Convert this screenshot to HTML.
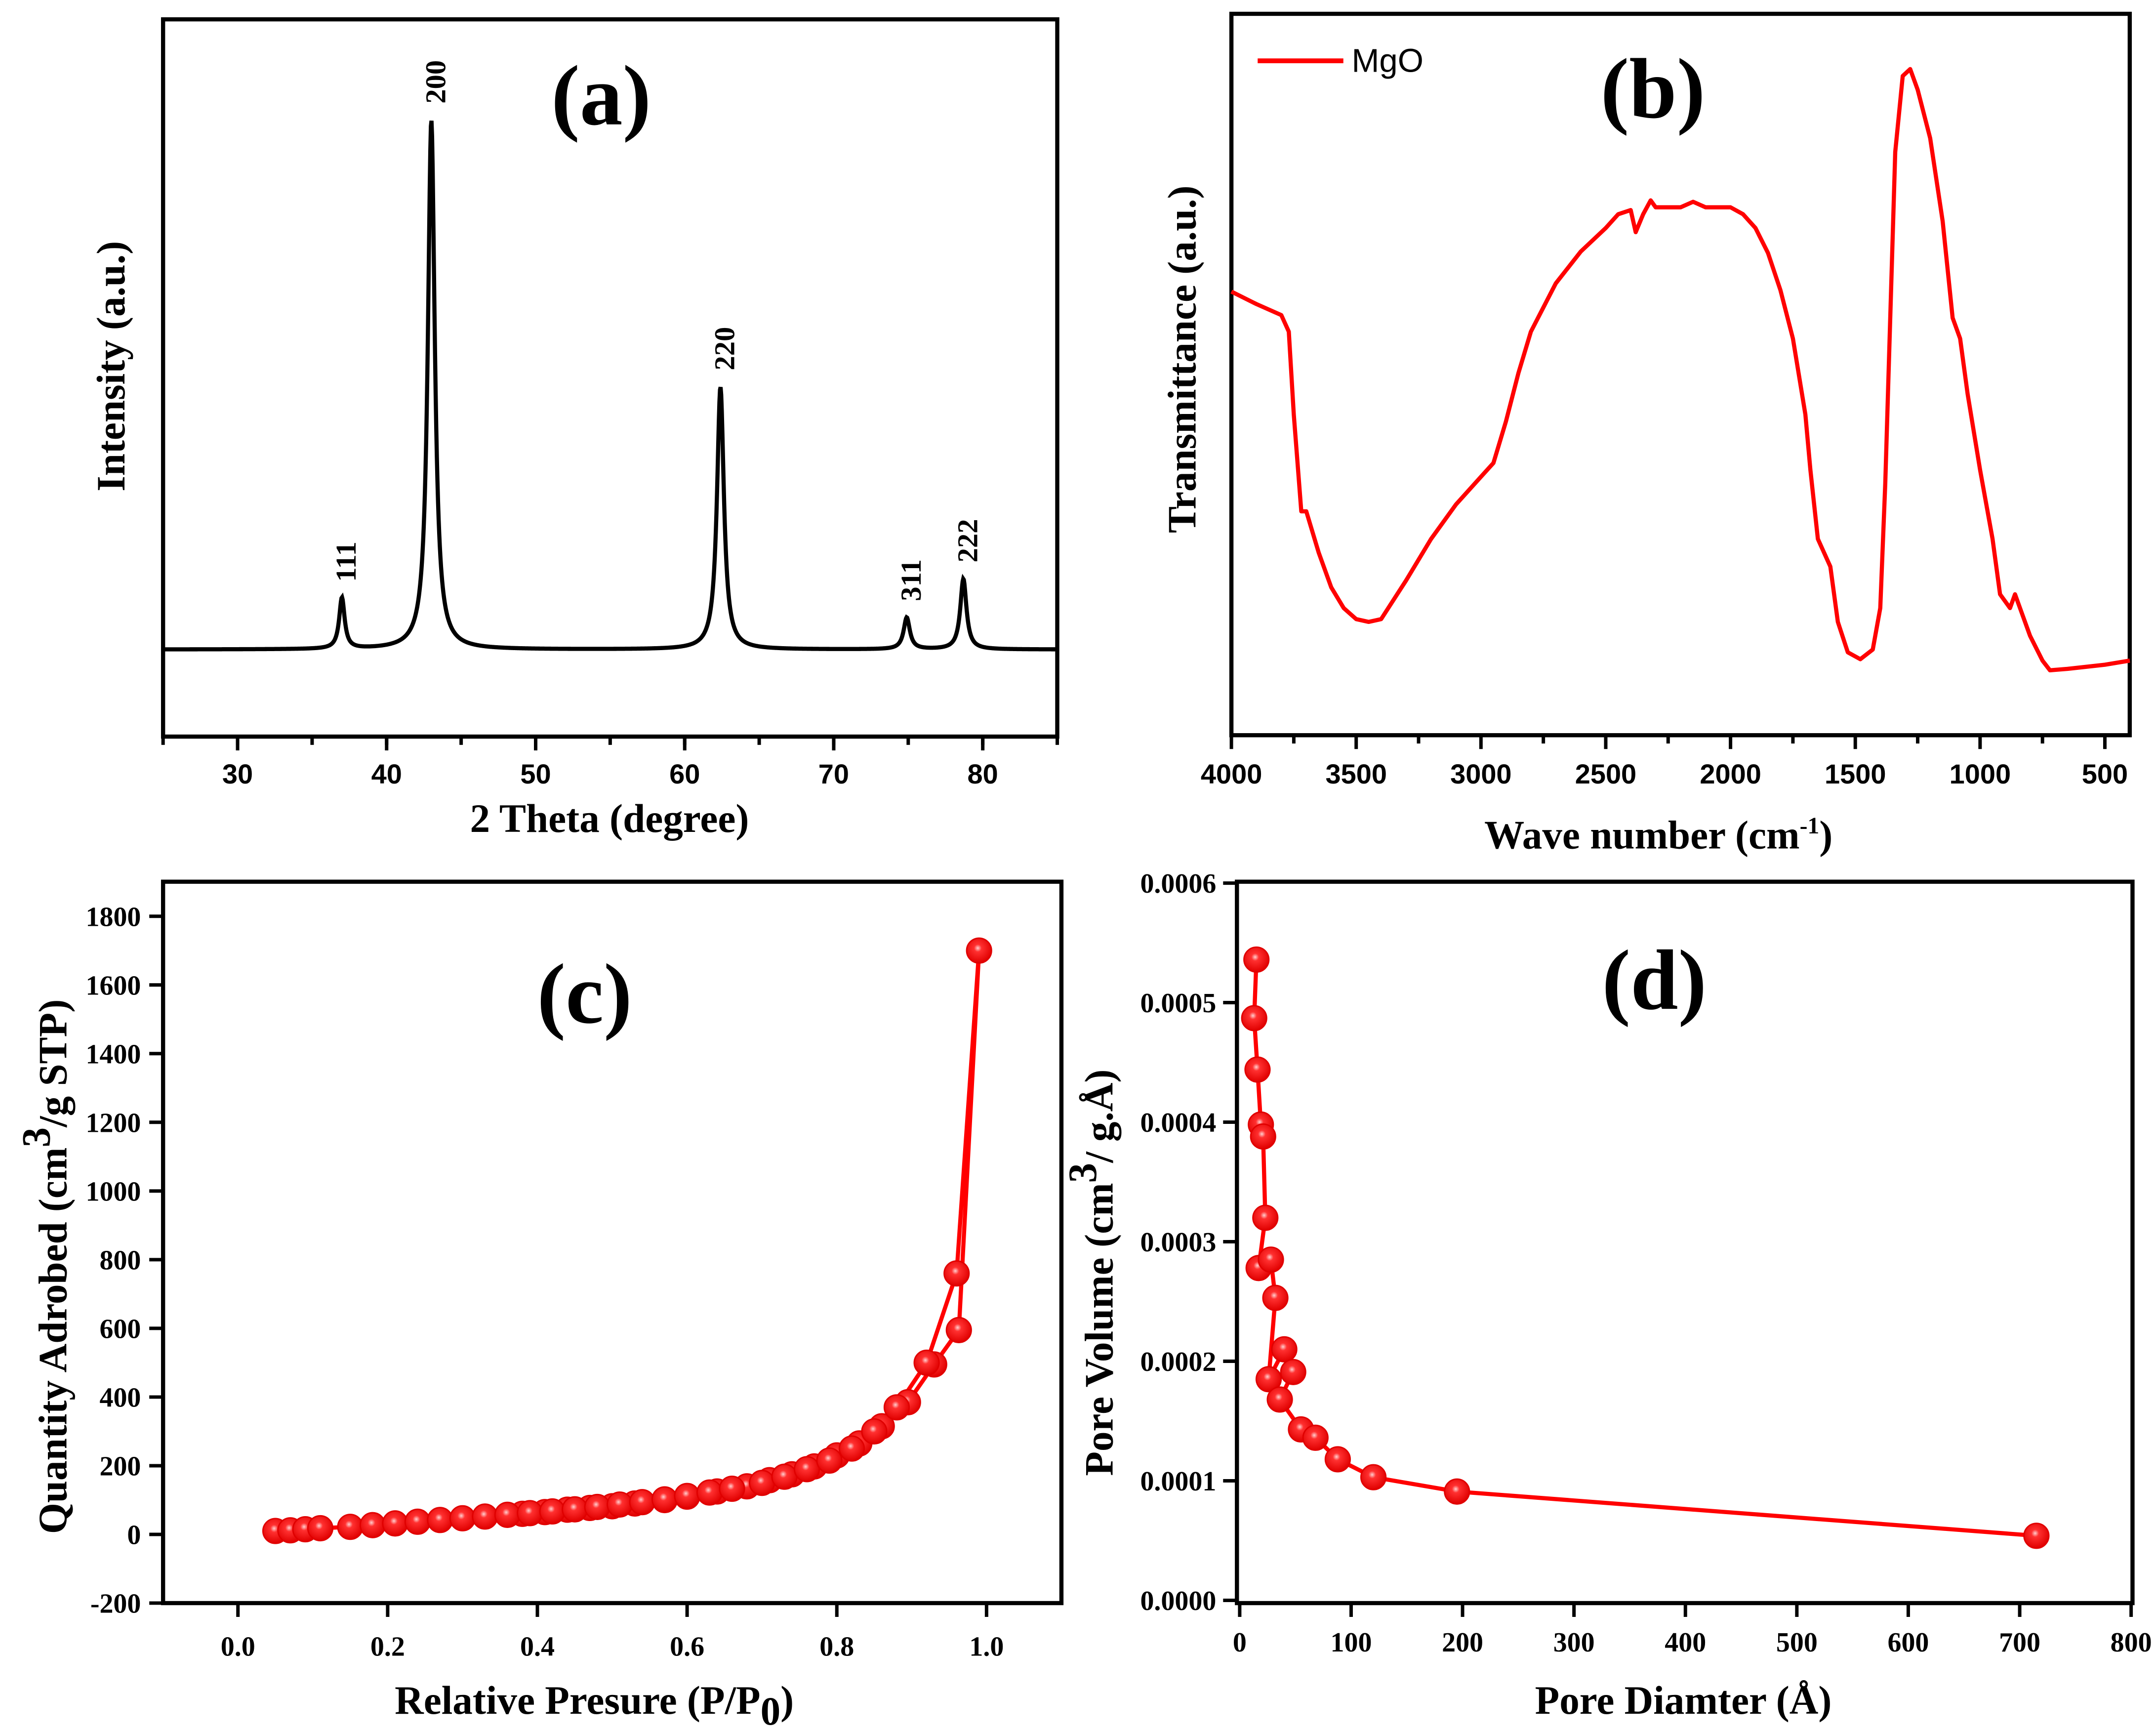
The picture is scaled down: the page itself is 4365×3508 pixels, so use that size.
<!DOCTYPE html>
<html><head><meta charset="utf-8"><style>
html,body{margin:0;padding:0;background:#fff;}
svg{display:block;}
.tk{font-family:"Liberation Sans",sans-serif;font-weight:bold;font-size:20px;fill:#000;}
.tks{font-family:"Liberation Serif",serif;font-weight:bold;font-size:20px;fill:#000;}
.ttl{font-family:"Liberation Serif",serif;font-weight:bold;font-size:29px;fill:#000;}
.pl{font-family:"Liberation Serif",serif;font-weight:bold;font-size:62px;fill:#000;}
.hk{font-family:"Liberation Serif",serif;font-weight:bold;font-size:21px;fill:#000;}
</style></head><body>
<svg id="fig" width="4365" height="3508" viewBox="0 0 1560 1254" preserveAspectRatio="none" xmlns="http://www.w3.org/2000/svg">
<defs>
<radialGradient id="ball" cx="0.45" cy="0.4" r="0.6">
<stop offset="0" stop-color="#ffd0d0"/><stop offset="0.25" stop-color="#ff3030"/><stop offset="1" stop-color="#e00000"/>
</radialGradient>
</defs>
<g id="pa"></g>
<g id="pb"></g>
<g id="pc"></g>
<g id="pd"></g>
</svg>
<script>
// Panel a data
const xrdPeakPos = [37.0, 43.0, 62.4, 74.9, 78.7];
const xrdPeakHeight = [37, 383, 190, 23, 51];
const xrdPeakWidth = [0.22, 0.28, 0.28, 0.25, 0.25];
const xrdLabels = ["111", "200", "220", "311", "222"];
const xrdTicks = [30, 40, 50, 60, 70, 80];
// Panel b data
const ftirWave = [4000,3900,3800,3770,3750,3720,3700,3650,3600,3550,3500,3450,3400,3300,3200,3100,3000,2950,2900,2850,2800,2700,2600,2500,2450,2400,2380,2350,2320,2300,2200,2150,2100,2000,1950,1900,1850,1800,1750,1700,1680,1650,1600,1570,1530,1480,1430,1400,1380,1360,1340,1310,1280,1250,1200,1150,1110,1080,1050,1000,950,920,880,860,830,800,750,720,650,500,400];
const ftirT = [211,220,228,240,300,370,370,400,425,440,448,450,448,420,390,365,345,335,305,270,240,205,182,165,155,152,168,155,145,150,150,146,150,150,155,165,183,210,245,300,340,390,410,450,472,477,470,440,350,230,110,55,50,65,100,160,230,245,285,340,390,430,440,430,445,460,478,485,484,481,478];
const ftirTicks = [4000,3500,3000,2500,2000,1500,1000,500];
// Panel c data
const adsP = [0.05,0.07,0.09,0.11,0.15,0.18,0.21,0.24,0.27,0.30,0.33,0.36,0.39,0.42,0.45,0.48,0.51,0.54,0.57,0.60,0.63,0.66,0.70,0.73,0.76,0.79,0.82,0.85,0.88,0.92,0.96,0.99];
const adsQ = [10,12,15,18,22,27,32,37,42,47,52,57,62,67,73,80,87,94,102,112,122,133,150,168,190,215,250,300,370,500,760,1700];
const desP = [0.963,0.93,0.895,0.86,0.83,0.80,0.77,0.74,0.71,0.68,0.64,0.60,0.57,0.53,0.50,0.47,0.44,0.41,0.38];
const desQ = [595,495,385,315,265,230,198,175,158,140,125,110,100,90,82,77,72,65,60];
const cYTicks = [-200,0,200,400,600,800,1000,1200,1400,1600,1800];
const cXTicks = [0.0,0.2,0.4,0.6,0.8,1.0];
// Panel d data
const poreD = [15,13,16,19,21,23,17,28,32,26,40,48,36,55,68,88,120,195,715];
const poreV = [0.000536,0.000487,0.000444,0.000398,0.000388,0.000320,0.000278,0.000285,0.000253,0.000185,0.000210,0.000191,0.000168,0.000143,0.000136,0.000118,0.000103,0.000091,0.000054];
const dYTicks = [0,0.0001,0.0002,0.0003,0.0004,0.0005,0.0006];
const dXTicks = [0,100,200,300,400,500,600,700,800];

const NS="http://www.w3.org/2000/svg";
function mk(tag, attrs, parent){const e=document.createElementNS(NS,tag);for(const k in attrs)e.setAttribute(k,attrs[k]);parent.appendChild(e);return e;}
function lin(d0,d1,r0,r1){return v=>r0+(v-d0)*(r1-r0)/(d1-d0);}
function frame(g,x0,y0,x1,y1){
  const r=mk('rect',{x:x0,y:y0,width:x1-x0,height:y1-y0,fill:'none',stroke:'#000','stroke-width':3},g);
  
  
}
function txt(g,s,x,y,cls,name,rot,anchor){
  const t=mk('text',{x:x,y:y,class:cls,'text-anchor':anchor||'middle'},g);
  if(rot)t.setAttribute('transform','rotate(-90 '+x+' '+y+')');
  t.textContent=s;
  
  
  return t;
}
function tickLine(g,x1,y1,x2,y2){
  const l=mk('line',{x1:x1,y1:y1,x2:x2,y2:y2,stroke:'#000','stroke-width':2.5},g);
  
  
}

// ---------- Panel a ----------
(function(){
  const g=document.getElementById('pa');
  const X=lin(25,85,118,765), Y=lin(0,383,470,87);
  frame(g,118,14,765,533);
  xrdTicks.forEach(v=>{tickLine(g,X(v),533,X(v),543);txt(g,String(v),X(v),567,'tk','x-tick-label');});
  for(let v=25;v<=85;v+=5){tickLine(g,X(v),533,X(v),539);}
  let d='';
  for(let x=25.05;x<=84.95;x+=0.04){
    let y=0;
    for(let i=0;i<xrdPeakPos.length;i++){const w=xrdPeakWidth[i];const u=(x-xrdPeakPos[i])/w;y+=xrdPeakHeight[i]/(1+u*u);}
    d+=(d?'L':'M')+X(x).toFixed(2)+' '+Y(y).toFixed(2);
  }
  const p=mk('path',{d:d,fill:'none',stroke:'#000','stroke-width':3},g);
  
  
  const labOff=[ [252,398],[316,60],[525,252],[657,422],[697,392] ];
  xrdLabels.forEach((s,i)=>{const px=X(xrdPeakPos[i])+3;const py=Y(xrdPeakHeight[i])-12;txt(g,s,px+7,py,'hk','peak-label-'+s,true,'start');});
  txt(g,'(a)',435,90,'pl','panel-label-a');
  txt(g,'Intensity (a.u.)',90,265,'ttl','y-axis-title',true);
  txt(g,'2 Theta (degree)',441,602,'ttl','x-axis-title');
})();

// ---------- Panel b ----------
(function(){
  const g=document.getElementById('pb');
  const X=lin(4000,500,891,1523);
  frame(g,891,10,1541,532);
  ftirTicks.forEach(v=>{tickLine(g,X(v),532,X(v),542);txt(g,String(v),X(v),567,'tk','x-tick-label');});
  for(let v=3750;v>=750;v-=500){tickLine(g,X(v),532,X(v),538);}
  let d='';
  ftirWave.forEach((w,i)=>{d+=(i?'L':'M')+X(w).toFixed(2)+' '+ftirT[i];});
  const p=mk('path',{d:d,fill:'none',stroke:'#ff0000','stroke-width':3,'stroke-linejoin':'round'},g);
  
  
  const ll=mk('line',{x1:910,y1:44,x2:972,y2:44,stroke:'#ff0000','stroke-width':3.5},g);
  
  
  const lt=mk('text',{x:978,y:52,'font-family':'Liberation Sans, sans-serif','font-size':24,fill:'#000'},g);
  lt.textContent='MgO';
  
  
  txt(g,'(b)',1196,85,'pl','panel-label-b');
  txt(g,'Transmittance (a.u.)',865,260,'ttl','y-axis-title',true);
  const t=txt(g,'Wave number (cm',1200,614,'ttl','x-axis-title');
  const s=mk('tspan',{dy:-11,'font-size':17},t);s.textContent='-1';
  const s2=mk('tspan',{dy:11},t);s2.textContent=')';
})();

function balls(g,xs,ys,X,Y,name){
  xs.forEach((v,i)=>{
    const c=mk('circle',{cx:X(v),cy:Y(ys[i]),r:9,fill:'url(#ball)',stroke:'#e00000','stroke-width':1},g);
    
    
  });
}

// ---------- Panel c ----------
(function(){
  const g=document.getElementById('pc');
  const X=lin(-0.1,1.1,118,768), Y=lin(-200,1800,1160,663);
  frame(g,118,638,768,1160);
  cYTicks.forEach(v=>{tickLine(g,108,Y(v),118,Y(v));txt(g,String(v),102,Y(v)+7,'tks','y-tick-label',false,'end');});
  cXTicks.forEach(v=>{tickLine(g,X(v),1160,X(v),1170);txt(g,v.toFixed(1),X(v),1198,'tks','x-tick-label');});
  let d='';
  adsP.forEach((p,i)=>{d+=(i?'L':'M')+X(p).toFixed(2)+' '+Y(adsQ[i]).toFixed(2);});
  desP.forEach((p,i)=>{d+='L'+X(p).toFixed(2)+' '+Y(desQ[i]).toFixed(2);});
  const pa=mk('path',{d:d,fill:'none',stroke:'#ff0000','stroke-width':3},g);
  
  
  balls(g,desP,desQ,X,Y,'desorption-point');
  balls(g,adsP,adsQ,X,Y,'adsorption-point');
  txt(g,'(c)',423,740,'pl','panel-label-c');
  const t=txt(g,'Quantity Adrobed (cm',48,1110,'ttl','y-axis-title',true,'start');
  t.setAttribute('font-size','31');
  const s=mk('tspan',{dy:-12},t);s.textContent='3';
  const s2=mk('tspan',{dy:12},t);s2.textContent='/g STP)';
  const xt=txt(g,'Relative Presure (P/P',430,1240,'ttl','x-axis-title');
  const s3=mk('tspan',{dy:8},xt);s3.textContent='0';
  const s4=mk('tspan',{dy:-8},xt);s4.textContent=')';
})();

// ---------- Panel d ----------
(function(){
  const g=document.getElementById('pd');
  const X=lin(0,800,897,1542), Y=lin(0,0.0006,1158,639);
  frame(g,895,638,1543,1160);
  dYTicks.forEach(v=>{tickLine(g,885,Y(v),895,Y(v));txt(g,v.toFixed(4),880,Y(v)+7,'tks','y-tick-label',false,'end');});
  dXTicks.forEach(v=>{tickLine(g,X(v),1160,X(v),1170);txt(g,String(v),X(v),1195,'tks','x-tick-label');});
  let d='';
  poreD.forEach((p,i)=>{d+=(i?'L':'M')+X(p).toFixed(2)+' '+Y(poreV[i]).toFixed(2);});
  const pa=mk('path',{d:d,fill:'none',stroke:'#ff0000','stroke-width':3},g);
  
  
  balls(g,poreD,poreV,X,Y,'pore-volume-point');
  txt(g,'(d)',1197,730,'pl','panel-label-d');
  const t=txt(g,'Pore Volume (cm',805,1068,'ttl','y-axis-title',true,'start');
  const s=mk('tspan',{dy:-12},t);s.textContent='3';
  const s2=mk('tspan',{dy:12},t);s2.textContent='/ g.Å)';
  txt(g,'Pore Diamter (Å)',1218,1240,'ttl','x-axis-title');
})();
</script>
</body></html>
